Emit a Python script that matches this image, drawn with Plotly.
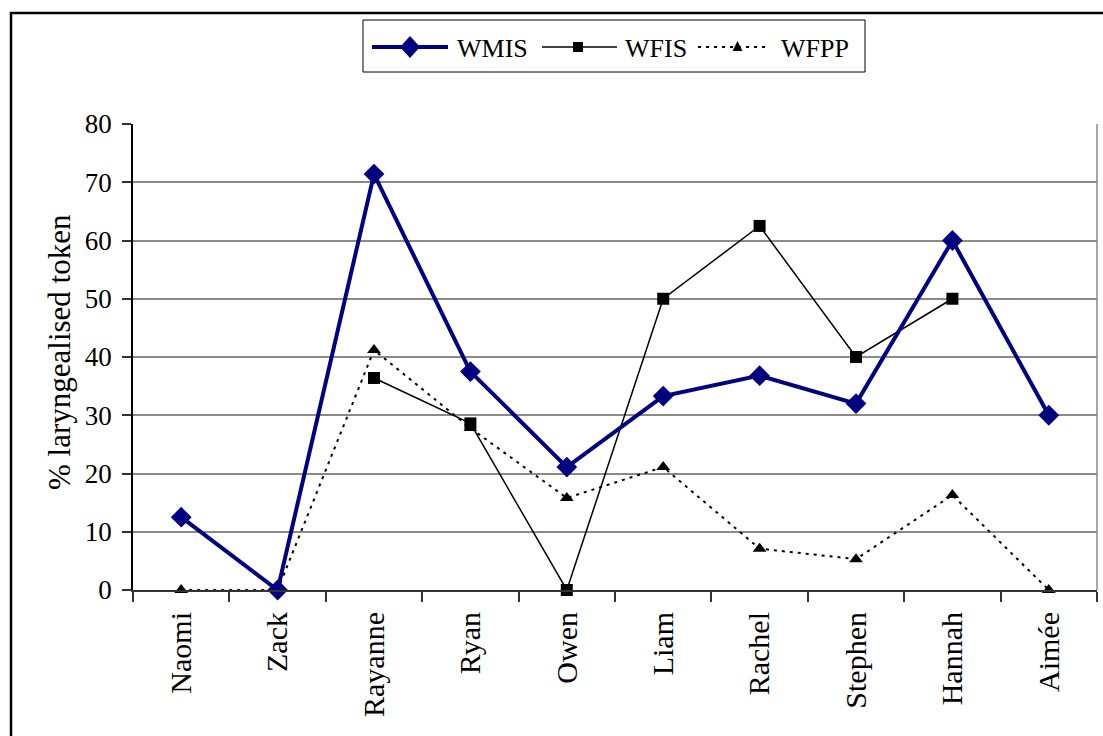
import plotly.graph_objects as go

# Speakers along the category axis
speakers = ["Naomi", "Zack", "Rayanne", "Ryan", "Owen", "Liam",
            "Rachel", "Stephen", "Hannah", "Aimée"]

# % laryngealised tokens per speaker and context
wmis = [12.5, 0, 71.4, 37.5, 21.1, 33.3, 36.8, 32.0, 60.0, 30.0]
wfis = [None, None, 36.4, 28.6, 0, 50.0, 62.5, 40.0, 50.0, None]
wfpp = [0, 0, 41.2, 27.8, 15.8, 21.1, 7.1, 5.3, 16.3, 0]

y_ticks = [0, 10, 20, 30, 40, 50, 60, 70, 80]

NAVY = "#000080"
FONT = "Liberation Serif"

W, H = 1103, 736
L, R, T, B = 133, 6, 124, 146
PW, PH = W - L - R, H - T - B


def px(x):
    return (x - L) / PW


def py(y):
    return (H - B - y) / PH


fig = go.Figure()

fig.add_trace(go.Scatter(
    x=speakers, y=wfpp, mode="lines+markers", name="WFPP",
    line=dict(color="black", width=2, dash="3px,5px"),
    marker=dict(symbol="triangle-up", size=12, color="black"),
    cliponaxis=False, showlegend=False))

fig.add_trace(go.Scatter(
    x=speakers, y=wfis, mode="lines+markers", name="WFIS",
    line=dict(color="black", width=1.5),
    marker=dict(symbol="square", size=12, color="black"),
    connectgaps=False, cliponaxis=False, showlegend=False))

fig.add_trace(go.Scatter(
    x=speakers, y=wmis, mode="lines+markers", name="WMIS",
    line=dict(color=NAVY, width=4),
    marker=dict(symbol="diamond", size=16, color=NAVY),
    cliponaxis=False, showlegend=False))

shapes = []
# outer chart frame
shapes.append(dict(type="rect", xref="paper", yref="paper",
                   x0=px(11), x1=px(1106), y0=py(742), y1=py(13),
                   line=dict(color="black", width=2.5), layer="above"))
# right edge of plot area
shapes.append(dict(type="line", xref="paper", yref="paper",
                   x0=1, x1=1, y0=0, y1=1,
                   line=dict(color="#8a8a8a", width=1.5), layer="below"))

# legend box and keys
LY = 47
shapes.append(dict(type="rect", xref="paper", yref="paper",
                   x0=px(363), x1=px(865), y0=py(72), y1=py(20),
                   line=dict(color="black", width=1), fillcolor="white"))
shapes.append(dict(type="line", xref="paper", yref="paper",
                   x0=px(372), x1=px(448), y0=py(LY), y1=py(LY),
                   line=dict(color=NAVY, width=4)))
shapes.append(dict(type="path", xref="paper", yref="paper",
                   path=f"M{px(400)},{py(LY)} L{px(410)},{py(LY-11)} "
                        f"L{px(420)},{py(LY)} L{px(410)},{py(LY+11)} Z",
                   fillcolor=NAVY, line=dict(color=NAVY, width=0)))
shapes.append(dict(type="line", xref="paper", yref="paper",
                   x0=px(542), x1=px(617), y0=py(LY), y1=py(LY),
                   line=dict(color="black", width=1.5)))
shapes.append(dict(type="rect", xref="paper", yref="paper",
                   x0=px(573), x1=px(583), y0=py(LY+5), y1=py(LY-5),
                   fillcolor="black", line=dict(color="black", width=0)))
shapes.append(dict(type="line", xref="paper", yref="paper",
                   x0=px(698), x1=px(768), y0=py(LY), y1=py(LY),
                   line=dict(color="black", width=2, dash="3px,5px")))
shapes.append(dict(type="path", xref="paper", yref="paper",
                   path=f"M{px(732.5)},{py(LY+4)} L{px(742.5)},{py(LY+4)} "
                        f"L{px(737.5)},{py(LY-6)} Z",
                   fillcolor="black", line=dict(color="black", width=0)))

annotations = []
for label, x0 in [("WMIS", 455), ("WFIS", 623), ("WFPP", 779)]:
    annotations.append(dict(text=label, xref="paper", yref="paper",
                            x=px(x0), y=py(LY + 1), xanchor="left",
                            yanchor="middle", showarrow=False,
                            font=dict(family=FONT, size=26, color="black")))

annotations.append(dict(text="% laryngealised token", xref="paper",
                        yref="paper", x=px(59), y=py(352), textangle=-90,
                        xanchor="center", yanchor="middle", showarrow=False,
                        font=dict(family=FONT, size=31, color="black")))

fig.update_layout(
    width=W, height=H,
    margin=dict(l=L, r=R, t=T, b=B, pad=0),
    paper_bgcolor="white", plot_bgcolor="white",
    font=dict(family=FONT, color="black"),
    shapes=shapes, annotations=annotations,
    showlegend=False,
)

fig.update_xaxes(
    type="category", categoryorder="array", categoryarray=speakers,
    range=[-0.5, len(speakers) - 0.5],
    showline=True, linecolor="#333333", linewidth=2,
    ticks="outside", tickson="boundaries", ticklen=10,
    tickcolor="#333333", tickwidth=1.5,
    tickangle=-90, ticklabelstandoff=8,
    tickfont=dict(family=FONT, size=30, color="black"),
    showgrid=False, zeroline=False,
)

fig.update_yaxes(
    range=[0, 80], tickvals=y_ticks,
    showline=True, linecolor="black", linewidth=1.5,
    ticks="outside", ticklen=9, tickcolor="#333333", tickwidth=1.5,
    ticklabelstandoff=5,
    tickfont=dict(family=FONT, size=27, color="black"),
    showgrid=True, gridcolor="#8a8a8a", gridwidth=1.5,
    zeroline=False,
)

fig.write_html("out.html")
